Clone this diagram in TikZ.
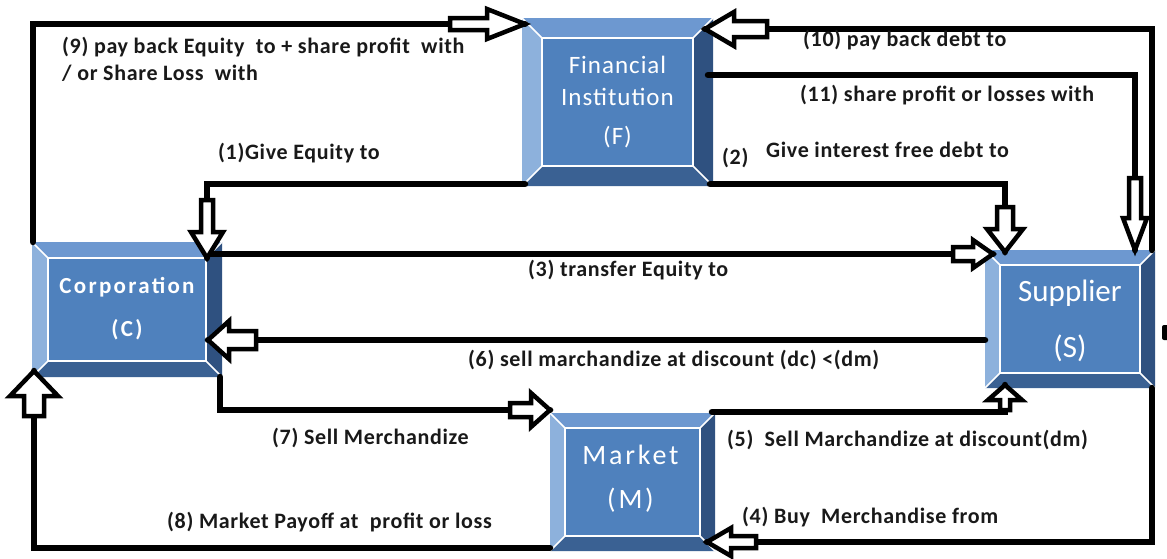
\documentclass[tikz,border=0pt]{standalone}
\usepackage{fontspec}
\setmainfont{Carlito}
\newfontfamily\boxfam[LetterSpace=4]{Carlito}
\newfontfamily\corpfam[LetterSpace=10]{Carlito}
\newfontfamily\mktfam[LetterSpace=10]{Carlito}
\newfontfamily\lblfam[LetterSpace=3]{Carlito}
\usetikzlibrary{calc}
\definecolor{face}{HTML}{4F81BD}
\definecolor{bvtop}{HTML}{6D98D0}
\definecolor{bvleft}{HTML}{8DB1DC}
\definecolor{bvright}{HTML}{2F5180}
\definecolor{bvbot}{HTML}{3A6193}
\newcommand\bevelbox[6]{%
  \node[box, minimum width=#4pt, minimum height=#5pt] (#1) at (#2,#3) {};
  \coordinate (#1-a) at ($(#1.north west)+(#6,#6)$);
  \coordinate (#1-b) at ($(#1.north east)+(-#6,#6)$);
  \coordinate (#1-c) at ($(#1.south east)+(-#6,-#6)$);
  \coordinate (#1-d) at ($(#1.south west)+(#6,-#6)$);
  \fill[bvtop] (#1.north west) -- (#1.north east) -- (#1-b) -- (#1-a) -- cycle;
  \fill[bvleft] (#1.north west) -- (#1-a) -- (#1-d) -- (#1.south west) -- cycle;
  \fill[bvright] (#1.north east) -- (#1.south east) -- (#1-c) -- (#1-b) -- cycle;
  \fill[bvbot] (#1.south west) -- (#1-d) -- (#1-c) -- (#1.south east) -- cycle;
  \fill[face] (#1-a) rectangle (#1-c);
  \draw[white, line width=2pt] (#1-a) rectangle (#1-c);
  \draw[white, line width=1.6pt] (#1.north west) -- (#1-a) (#1.north east) -- (#1-b)
     (#1.south east) -- (#1-c) (#1.south west) -- (#1-d);
}
% tip coordinate, angle, total length, head length, head half width, shaft half width
\newcommand\barrow[6]{%
  \draw[harrow, shift={(#1)}, rotate=#2] (0,0) -- (-#4,#5) -- (-#4,#6) -- (-#3,#6)
     -- (-#3,-#6) -- (-#4,-#6) -- (-#4,-#5) -- cycle;
}
\begin{document}
\begin{tikzpicture}[x=1pt, y=-1pt,
  box/.style={inner sep=0pt, outer sep=0pt, draw=none},
  flow/.style={draw=black, line width=6.5pt, line cap=round, line join=miter},
  harrow/.style={draw=black, fill=white, line width=4.5pt, line join=miter},
  lbl/.style={font=\fontsize{22}{26}\selectfont\lblfam\bfseries, anchor=west, inner sep=0pt, text=black!90},
  btxt/.style={font=\fontsize{25}{29}\selectfont\boxfam, text=white, inner sep=0pt},
  ctxt/.style={font=\fontsize{23}{27}\selectfont\corpfam\bfseries, text=white, inner sep=0pt},
  stxt/.style={font=\fontsize{31}{35}\selectfont, text=white, inner sep=0pt},
  mtxt/.style={font=\fontsize{28}{32}\selectfont\mktfam, text=white, inner sep=0pt}]
\useasboundingbox (0,0) rectangle (1167,558);
\fill[white] (0,0) rectangle (1167,558);

% boxes
\bevelbox{F}{617.5}{102}{191}{168}{20}
\bevelbox{C}{127}{309.5}{190}{135}{16}
\bevelbox{S}{1070}{319}{170}{138}{15}
\bevelbox{M}{632.5}{482}{165}{138}{15}

\node[btxt] (F1) at ($(F)+(0,-37)$) {Financial};
\node[btxt] (F2) at ($(F)+(0,-5)$) {Institution};
\node[btxt] (F3) at ($(F)+(0,35)$) {(F)};
\node[ctxt] (C1) at ($(C)+(0,-22.5)$) {Corporation};
\node[ctxt] (C2) at ($(C)+(0,20.5)$) {(C)};
\node[stxt] (S1) at ($(S)+(0,-26)$) {Supplier};
\node[stxt] (S2) at ($(S)+(0,29)$) {(S)};
\node[mtxt] (M1) at ($(M)+(-2,-27)$) {Market};
\node[mtxt] (M2) at ($(M)+(-2,18)$) {(M)};

% connector end points
\coordinate (t9) at ($(F.north west)+(3,6)$);
\coordinate (t10) at ($(F.north east)+(-8,11)$);
\coordinate (s11) at ($(F.east)+(-5,-27)$);
\coordinate (t11) at ($(S.north east)+(-20,0)$);
\coordinate (s1) at ($(F.south west)+(3,-2)$);
\coordinate (t1) at ($(C.north east)+(-15,16)$);
\coordinate (s2) at ($(F.south east)+(-3,-2)$);
\coordinate (t2) at ($(S.north west)+(20,2)$);
\coordinate (s3) at ($(C.north east)+(-12,12)$);
\coordinate (t3) at ($(S.north west)+(8,4)$);
\coordinate (s6) at ($(S.west)+(0,21)$);
\coordinate (t6) at ($(C.east)+(-14,30.5)$);
\coordinate (s7) at ($(C.south east)+(-2,0)$);
\coordinate (t7) at ($(M.north west)+(0,-3)$);
\coordinate (s5) at ($(M.north east)+(-3,-1)$);
\coordinate (t5) at ($(S.south west)+(20,-3)$);
\coordinate (s4) at ($(S.south east)+(-3,0)$);
\coordinate (t4) at ($(M.south east)+(-8,-9)$);
\coordinate (s8) at ($(M.south west)+(0,-3)$);
\coordinate (t8) at ($(C.south west)+(2,-6)$);
\coordinate (s9) at ($(C.north west)+(1,0)$);
\coordinate (s10) at ($(S.north east)+(-3,0)$);

% connectors
\draw[flow] (s9) |- (t9);
\draw[flow] (s10) |- (t10);
\draw[flow] (s11) -| (t11);
\draw[flow] (s1) -| (t1);
\draw[flow] (s2) -| (t2);
\draw[flow] (s3) -- (t3);
\draw[flow] (s6) -- (t6);
\draw[flow] (s7) |- (t7);
\draw[flow] (s5) -| (t5);
\draw[flow] (s4) |- (t4);
\draw[flow] (s8) -| (t8);

% hollow block arrows
\barrow{t9}{0}{75}{38}{15}{6}
\barrow{t10}{180}{62}{29}{17}{8}
\barrow{t11}{-90}{72}{32}{12}{6}
\barrow{t1}{-90}{58}{26}{16}{6}
\barrow{t2}{-90}{45}{23}{18}{8}
\barrow{t3}{0}{40}{20}{14}{7}
\barrow{t6}{180}{48}{21}{19}{9}
\barrow{t7}{0}{40}{19}{17}{7}
\barrow{t5}{90}{25}{15}{17}{5}
\barrow{t4}{180}{49}{24}{14}{6}
\barrow{t8}{90}{45}{25}{24}{10}

\fill[black, rounded corners=2pt] (1162,325) rectangle (1169,340);

% labels
\node[lbl] (l9a) at (62,47) {(9) pay back Equity\ \ to + share profit\ \ with};
\node[lbl] (l9b) at (62,73) {/ or Share Loss\ \ with};
\node[lbl] (l1) at (218,153) {(1)Give Equity to};
\node[lbl] (l10) at (803,40) {(10) pay back debt to};
\node[lbl] (l11) at (800,95) {(11) share profit or losses with};
\node[lbl] (l2a) at (722,158) {(2)};
\node[lbl] (l2b) at (766,150) {Give interest free debt to};
\node[lbl] (l3) at (528,270) {(3) transfer Equity to};
\node[lbl] (l6) at (468,360) {(6) sell marchandize at discount (dc) <(dm)};
\node[lbl] (l7) at (272,438) {(7) Sell Merchandize};
\node[lbl] (l5) at (727,440) {(5)\ \ Sell Marchandize at discount(dm)};
\node[lbl] (l8) at (167,522) {(8) Market Payoff at\ \ profit or loss};
\node[lbl] (l4) at (742,517) {(4) Buy\ \ Merchandise from};
\end{tikzpicture}
\end{document}
